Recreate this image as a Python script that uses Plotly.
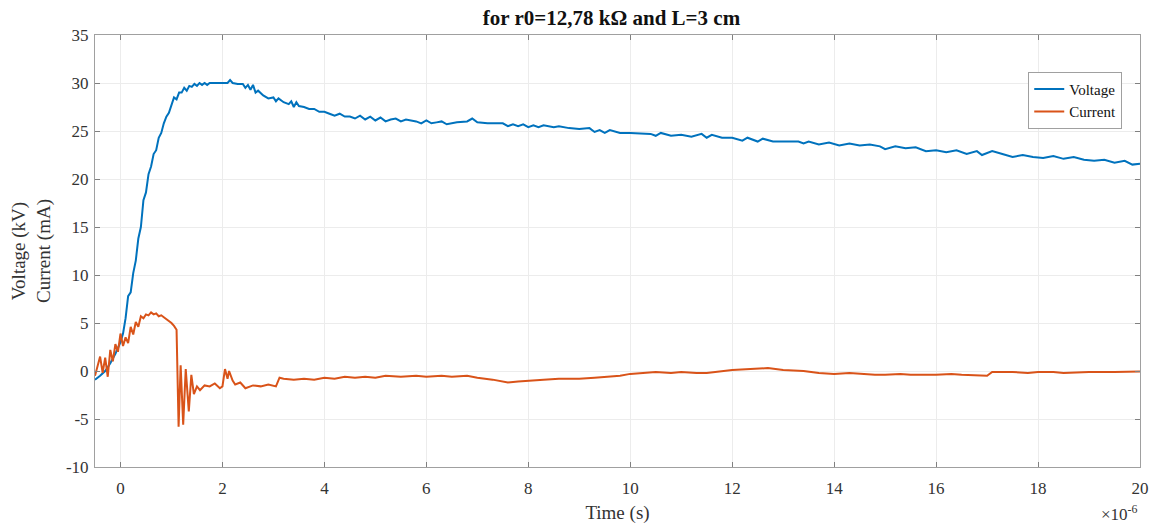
import plotly.graph_objects as go

# Time in microseconds (axis shows x10^-6 s)
v_t = [-0.5, -0.4, -0.3, -0.2, -0.1, 0.0, 0.05, 0.1, 0.15, 0.2, 0.25, 0.3, 0.35, 0.4, 0.45, 0.5,
       0.55, 0.6, 0.65, 0.7, 0.75, 0.8, 0.85, 0.9, 0.95, 1.0, 1.05, 1.1, 1.15, 1.2, 1.25, 1.3,
       1.35, 1.4, 1.45, 1.5, 1.55, 1.6, 1.65, 1.7, 1.75, 1.8, 2.0, 2.1, 2.15, 2.2, 2.3, 2.4,
       2.45, 2.5, 2.55, 2.6, 2.65, 2.7, 2.8, 2.9, 3.0, 3.05, 3.1, 3.2, 3.3, 3.35, 3.4, 3.45,
       3.5, 3.6, 3.7, 3.8, 3.9, 4.0, 4.1, 4.2, 4.3, 4.4, 4.5, 4.6, 4.7, 4.8, 4.9, 5.0,
       5.1, 5.2, 5.3, 5.4, 5.5, 5.6, 5.8, 5.9, 6.0, 6.1, 6.2, 6.3, 6.4, 6.6, 6.8, 6.9,
       7.0, 7.2, 7.5, 7.6, 7.7, 7.8, 7.9, 8.0, 8.1, 8.2, 8.3, 8.5, 8.6, 8.8, 9.0, 9.2,
       9.3, 9.4, 9.5, 9.6, 9.8, 10.0, 10.4, 10.5, 10.6, 10.8, 11.0, 11.2, 11.4, 11.5, 11.6, 11.8,
       12.0, 12.2, 12.3, 12.5, 12.6, 12.8, 13.3, 13.4, 13.5, 13.7, 13.9, 14.1, 14.3, 14.5, 14.7, 14.9,
       15.0, 15.2, 15.4, 15.6, 15.8, 16.0, 16.2, 16.4, 16.6, 16.8, 16.9, 17.1, 17.3, 17.5, 17.7, 17.9,
       18.1, 18.3, 18.5, 18.7, 18.9, 19.1, 19.3, 19.5, 19.7, 19.85, 20.0]
voltage = [-0.9, -0.5, 0.0, 0.8, 1.8, 3.0, 3.9, 5.5, 7.8, 8.2, 10.2, 11.5, 13.8, 15.0, 17.8, 18.6,
           20.5, 21.3, 22.6, 23.0, 24.3, 24.8, 25.8, 26.5, 26.9, 27.6, 28.5, 28.3, 29.0, 29.0, 29.5, 29.2,
           29.7, 29.6, 29.9, 29.7, 30.0, 29.8, 30.0, 29.8, 30.0, 30.0, 30.0, 30.0, 30.3, 30.0, 29.9, 29.9,
           29.5, 29.8, 29.3, 29.8, 29.0, 29.2, 28.7, 28.4, 28.5, 28.1, 28.4, 28.0, 27.8, 28.1, 27.5, 28.0,
           27.6, 27.5, 27.3, 27.3, 27.0, 27.0, 26.8, 26.6, 26.8, 26.5, 26.5, 26.3, 26.6, 26.2, 26.5, 26.1,
           26.4, 26.0, 26.2, 26.3, 26.0, 26.2, 26.0, 25.8, 26.1, 25.8, 25.9, 26.0, 25.7, 25.9, 26.0, 26.3,
           25.9, 25.8, 25.8, 25.5, 25.7, 25.5, 25.7, 25.4, 25.6, 25.4, 25.6, 25.4, 25.5, 25.3, 25.2, 25.3,
           24.9, 25.1, 24.8, 25.1, 24.8, 24.8, 24.7, 24.5, 24.8, 24.5, 24.6, 24.4, 24.7, 24.3, 24.6, 24.3,
           24.3, 24.0, 24.3, 23.9, 24.2, 23.9, 23.9, 23.7, 23.9, 23.6, 23.8, 23.5, 23.7, 23.5, 23.6, 23.4,
           23.1, 23.4, 23.2, 23.3, 22.9, 23.0, 22.8, 23.0, 22.6, 22.9, 22.5, 22.9, 22.6, 22.3, 22.5, 22.3,
           22.2, 22.4, 22.1, 22.3, 22.0, 21.9, 22.0, 21.7, 21.9, 21.5, 21.6]

c_t = [-0.5, -0.45, -0.4, -0.35, -0.3, -0.25, -0.2, -0.15, -0.1, -0.05, 0.0, 0.05, 0.1, 0.15, 0.2, 0.25,
       0.3, 0.35, 0.4, 0.45, 0.5, 0.55, 0.6, 0.65, 0.7, 0.75, 0.8, 0.85, 0.9, 0.95, 1.0, 1.05,
       1.1, 1.14, 1.18, 1.23, 1.28, 1.34, 1.39, 1.44, 1.5, 1.56, 1.65, 1.75, 1.85, 1.95, 2.0, 2.05,
       2.1, 2.13, 2.2, 2.25, 2.35, 2.45, 2.6, 2.75, 2.9, 3.05, 3.12, 3.2, 3.4, 3.6, 3.8, 4.0,
       4.2, 4.4, 4.6, 4.8, 5.0, 5.2, 5.5, 5.8, 6.0, 6.3, 6.5, 6.8, 7.0, 7.3, 7.6, 7.8,
       8.0, 8.3, 8.6, 9.0, 9.3, 9.5, 9.8, 10.0, 10.3, 10.5, 10.8, 11.0, 11.3, 11.5, 12.0, 12.4,
       12.7, 13.0, 13.4, 13.7, 14.0, 14.3, 14.5, 14.8, 15.0, 15.3, 15.5, 15.8, 16.0, 16.3, 16.5, 17.0,
       17.1, 17.5, 17.8, 18.0, 18.3, 18.5, 18.8, 19.0, 19.5, 20.0]
current = [-0.5, 0.5, 1.5, -0.2, 1.4, -0.6, 2.2, 1.0, 2.8, 2.0, 3.9, 2.6, 3.5, 2.9, 4.6, 3.8,
           5.1, 4.6, 5.7, 5.5, 5.9, 5.8, 6.1, 5.9, 6.0, 5.7, 5.8, 5.6, 5.4, 5.2, 5.0, 4.7,
           4.3, -5.8, 0.6, -5.6, 0.2, -4.2, -0.4, -2.4, -1.6, -2.0, -1.5, -1.6, -1.3, -1.8, -1.6, 0.2,
           -0.8, 0.0, -1.0, -1.4, -1.2, -1.8, -1.5, -1.6, -1.4, -1.6, -0.7, -0.8, -0.9, -0.8, -0.9, -0.7,
           -0.8, -0.6, -0.7, -0.6, -0.7, -0.5, -0.6, -0.5, -0.6, -0.5, -0.6, -0.5, -0.7, -0.9, -1.2, -1.1,
           -1.0, -0.9, -0.8, -0.8, -0.7, -0.6, -0.5, -0.3, -0.2, -0.1, -0.2, -0.1, -0.2, -0.2, 0.1, 0.2,
           0.3, 0.1, 0.0, -0.2, -0.3, -0.2, -0.3, -0.4, -0.4, -0.3, -0.4, -0.4, -0.4, -0.3, -0.4, -0.5,
           -0.1, -0.1, -0.2, -0.1, -0.1, -0.2, -0.1, -0.1, -0.1, -0.05]

x_ticks = [0, 2, 4, 6, 8, 10, 12, 14, 16, 18, 20]
x_labels = ["0", "2", "4", "6", "8", "10", "12", "14", "16", "18", "20"]
y_ticks = [-10, -5, 0, 5, 10, 15, 20, 25, 30, 35]
y_labels = ["-10", "-5", "0", "5", "10", "15", "20", "25", "30", "35"]

FONT = "Liberation Serif, Times New Roman, serif"

fig = go.Figure()
fig.add_trace(go.Scatter(x=v_t, y=voltage, mode="lines", name="Voltage",
                         line=dict(color="#0072BD", width=2)))
fig.add_trace(go.Scatter(x=c_t, y=current, mode="lines", name="Current",
                         line=dict(color="#D95319", width=2)))

axis_common = dict(showline=True, linecolor="#a0a0a0", linewidth=1, mirror="ticks",
                   ticks="inside", ticklen=5, tickcolor="#808080", automargin=False,
                   showgrid=True, gridcolor="#ececec", gridwidth=1, zeroline=False,
                   tickfont=dict(family=FONT, size=17, color="#333333"))

fig.update_layout(
    width=1155, height=527,
    margin=dict(l=95, r=15, t=35, b=60),
    paper_bgcolor="white", plot_bgcolor="white",
    title=dict(text="<b>for r0=12,78 kΩ and L=3 cm</b>", x=0.418, xanchor="left",
               y=0.967, yanchor="middle", font=dict(family=FONT, size=21, color="#111111")),
    xaxis=dict(range=[-0.5, 20], tickvals=x_ticks, ticktext=x_labels, ticklabelstandoff=6,
               title=dict(text="Time (s)", font=dict(family=FONT, size=19, color="#333333"), standoff=8),
               **axis_common),
    yaxis=dict(range=[-10, 35], tickvals=y_ticks, ticktext=y_labels, ticklabelstandoff=2,
               title=dict(text="Voltage (kV)<br>Current (mA)", font=dict(family=FONT, size=19, color="#333333"),
                          standoff=10),
               **axis_common),
    legend=dict(x=0.983, y=0.915, xanchor="right", yanchor="top",
                bgcolor="white", bordercolor="#a0a0a0", borderwidth=1,
                font=dict(family=FONT, size=15, color="#111111"),
                itemwidth=30, tracegroupgap=0),
    showlegend=True,
)

fig.add_annotation(text="×10<sup>-6</sup>", xref="paper", yref="paper", x=1.0, y=0,
                   xanchor="right", yanchor="top", yshift=-33, showarrow=False,
                   font=dict(family=FONT, size=17, color="#333333"))

fig.write_html("out.html")
